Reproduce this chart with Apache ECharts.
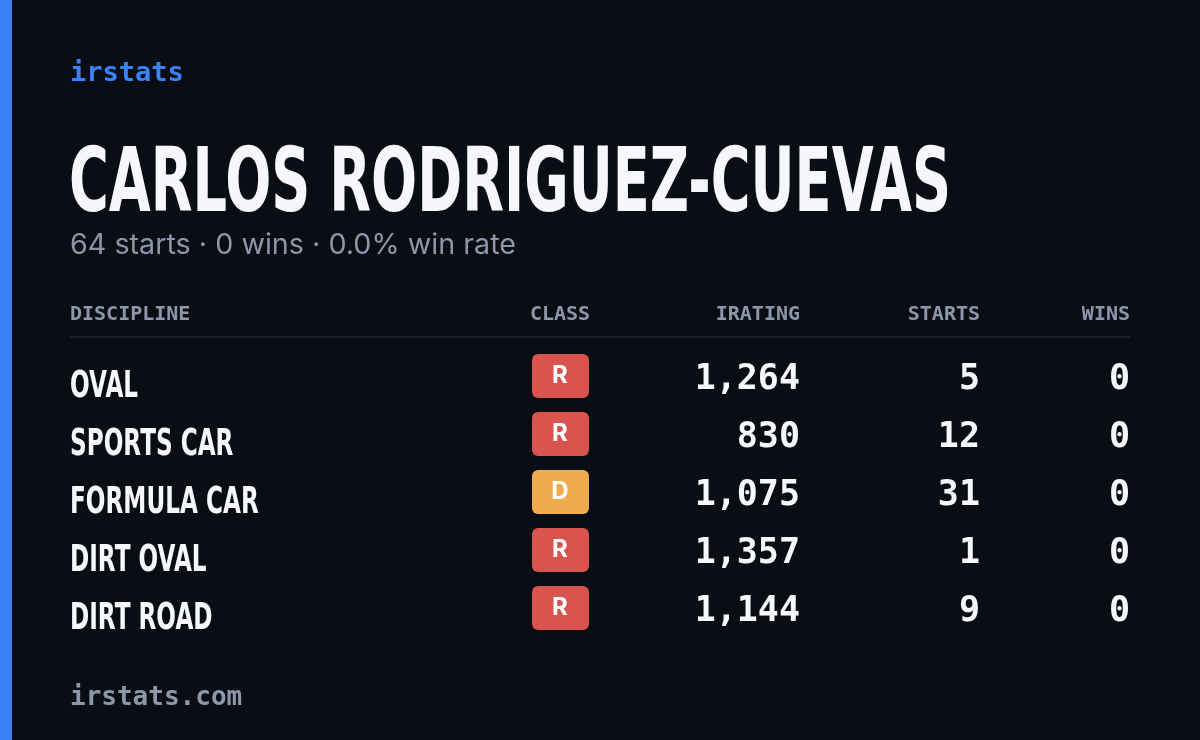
<!DOCTYPE html>
<html><head><meta charset="utf-8">
<script src="https://cdn.jsdelivr.net/npm/echarts@6/dist/echarts.min.js"></script>
<style>html,body{margin:0;padding:0;background:#0a0d14}#c{width:1200px;height:740px}</style>
</head><body><div id="c"></div>
<script>
const disciplines = ['OVAL','SPORTS CAR','FORMULA CAR','DIRT OVAL','DIRT ROAD'];
const classes = ['R','R','D','R','R'];
const iratings = [1264, 830, 1075, 1357, 1144];
const starts = [5, 12, 31, 1, 9];
const wins = [0, 0, 0, 0, 0];
const headers = ['DISCIPLINE','CLASS','IRATING','STARTS','WINS'];
const driver = 'CARLOS RODRIGUEZ-CUEVAS';
const subtitle = '64 starts · 0 wins · 0.0% win rate';

const classColors = {R:'#d9534f', D:'#efac4e'};
const mono = '"DejaVu Sans Mono", monospace';
const bold = '"DejaVu Sans", sans-serif';
const sans = '"Inter", "Noto Sans", sans-serif';
const fmt = n => n.toLocaleString('en-US');
const ctx = document.createElement('canvas').getContext('2d');
const measure = (t,f) => { ctx.font = f; return ctx.measureText(t).width; };

const titleFont = 'bold 89px ' + bold;
const sx = 882 / measure(driver, titleFont);
const subFont = '28px ' + sans;
const subSx = 446 / measure(subtitle, subFont);

const g = [
  {type:'rect', shape:{x:0,y:0,width:12,height:740}, style:{fill:'#3b82f6'}},
  {type:'text', x:70, y:74, style:{text:'irstats', font:'bold 27px '+mono, fill:'#3b82f6', textVerticalAlign:'middle'}},
  {type:'text', x:69, y:232, scaleX:sx, style:{text:driver, font:titleFont, fill:'#f5f7fb', textVerticalAlign:'bottom'}},
  {type:'text', x:70, y:246, scaleX:subSx, style:{text:subtitle, font:subFont, fill:'#8d97aa', textVerticalAlign:'middle'}},
  {type:'rect', shape:{x:70,y:336,width:1060,height:2}, style:{fill:'#1b202b'}},
  {type:'text', x:70, y:698, style:{text:'irstats.com', font:'bold 26px '+mono, fill:'#8d97aa', textVerticalAlign:'middle'}}
];
const hx = [[70,'left'],[560,'center'],[800,'right'],[980,'right'],[1130,'right']];
headers.forEach((h,i)=>g.push({type:'text', x:hx[i][0], y:315, style:{text:h, font:'bold 20px '+mono, fill:'#8d97aa', textAlign:hx[i][1], textVerticalAlign:'middle'}}));
disciplines.forEach((d,i)=>{
  const y = 378 + i*58;
  g.push({type:'text', x:70, y:y+9, scaleX:sx, style:{text:d, font:'bold 38px '+bold, fill:'#f5f7fb', textVerticalAlign:'middle'}});
  g.push({type:'rect', shape:{x:532,y:y-24,width:57,height:44,r:6}, style:{fill:classColors[classes[i]]}});
  g.push({type:'text', x:560, y:y-2, style:{text:classes[i], font:'bold 24px '+sans, fill:'#fff', textAlign:'center', textVerticalAlign:'middle'}});
  [[iratings[i],800],[starts[i],980],[wins[i],1130]].forEach(([v,x])=>
    g.push({type:'text', x:x, y:y+2, style:{text:fmt(v), font:'bold 35px '+mono, fill:'#f5f7fb', textAlign:'right', textVerticalAlign:'middle'}}));
});
const chart = echarts.init(document.getElementById('c'));
chart.setOption({backgroundColor:'#0a0d14', graphic:g});
</script></body></html>
